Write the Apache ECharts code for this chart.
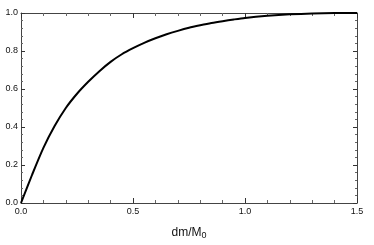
<!DOCTYPE html>
<html>
<head>
<meta charset="utf-8">
<script src="https://cdn.jsdelivr.net/npm/echarts@6/dist/echarts.min.js"></script>
<style>html,body{margin:0;padding:0;background:#fff;}#c{width:374px;height:245px;}</style>
</head>
<body>
<div id="c"></div>
<script>
var xValues = [0, 0.05, 0.1, 0.15, 0.2, 0.25, 0.3, 0.35, 0.4, 0.45, 0.5, 0.55, 0.6, 0.65, 0.7, 0.75, 0.8, 0.85, 0.9, 0.95, 1.0, 1.1, 1.2, 1.3, 1.4, 1.5];
var yValues = [0, 0.15, 0.29, 0.405, 0.50, 0.575, 0.638, 0.694, 0.743, 0.783, 0.815, 0.843, 0.867, 0.888, 0.906, 0.922, 0.935, 0.947, 0.957, 0.966, 0.974, 0.985, 0.993, 0.998, 1.0, 1.0];
var xTicks = [0, 0.5, 1.0, 1.5];
var yTicks = [0, 0.2, 0.4, 0.6, 0.8, 1.0];

var chart = echarts.init(document.getElementById('c'), null, {renderer: 'canvas'});
var axisColor = '#444';
var font = 'Liberation Sans, Arial, sans-serif';
function xAxisBase(show, pos) {
  return {
    type: 'value', min: 0, max: 1.5, interval: 0.5, position: pos,
    axisLine: {show: true, onZero: false, lineStyle: {color: axisColor, width: 1}},
    axisTick: {show: true, inside: true, length: 5, lineStyle: {color: '#333'}},
    minorTick: {show: true, splitNumber: 5, length: 3, lineStyle: {color: '#666'}},
    splitLine: {show: false},
    axisLabel: {show: show, margin: 4, fontSize: 9, color: '#111', fontFamily: font,
      formatter: function (v) { return xTicks.indexOf(v) >= 0 ? v.toFixed(1) : ''; }}
  };
}
function yAxisBase(show, pos) {
  return {
    type: 'value', min: 0, max: 1.0, interval: 0.2, position: pos,
    axisLine: {show: true, onZero: false, lineStyle: {color: axisColor, width: 1}},
    axisTick: {show: true, inside: true, length: 4, lineStyle: {color: '#333'}},
    minorTick: {show: true, splitNumber: 5, length: 2, lineStyle: {color: '#666'}},
    splitLine: {show: false},
    axisLabel: {show: show, margin: 3, fontSize: 9, color: '#111', fontFamily: font,
      formatter: function (v) { return yTicks.indexOf(Math.round(v * 10) / 10) >= 0 ? v.toFixed(1) : ''; }}
  };
}
var xa = xAxisBase(true, 'bottom');
xa.name = '{a|dm/M}{b|0}';
xa.nameLocation = 'middle';
xa.nameGap = 22;
xa.nameTextStyle = {rich: {
  a: {fontSize: 12, color: '#111', fontFamily: font},
  b: {fontSize: 9, color: '#111', fontFamily: font, verticalAlign: 'bottom', padding: [6, 0, 0, 0]}
}};
var xb = xAxisBase(false, 'top');
var ya = yAxisBase(true, 'left');
var yb = yAxisBase(false, 'right');

var data = xValues.map(function (x, i) { return [x, yValues[i]]; });

chart.setOption({
  animation: false,
  backgroundColor: '#fff',
  grid: {left: 21, right: 17, top: 13, bottom: 30, containLabel: false},
  xAxis: [xa, xb],
  yAxis: [ya, yb],
  series: [{
    type: 'line', xAxisIndex: 0, yAxisIndex: 0,
    data: data, smooth: 0.25, showSymbol: false,
    lineStyle: {color: '#000', width: 2}
  }]
});
</script>
</body>
</html>
